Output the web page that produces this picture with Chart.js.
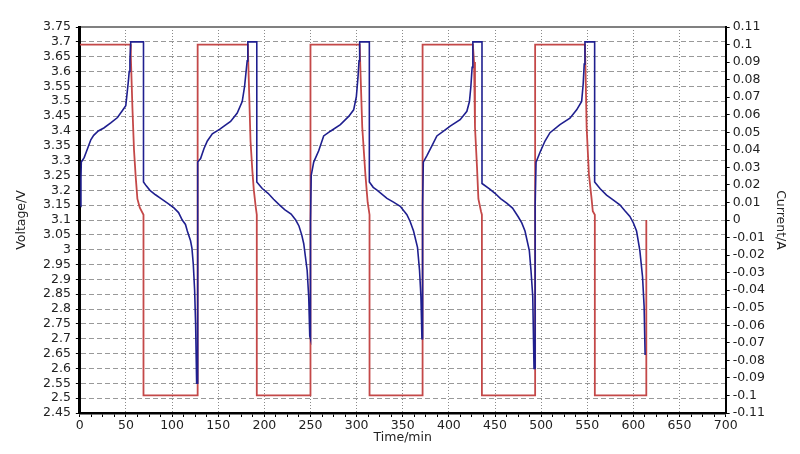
<!DOCTYPE html>
<html lang="en">
<head>
<meta charset="UTF-8">
<title>Voltage / Current vs Time</title>
<script src="https://cdn.jsdelivr.net/npm/chart.js@4/dist/chart.umd.min.js"></script>
<style>
  html, body { margin: 0; padding: 0; background: #fff; }
  #wrap { width: 800px; height: 454px; }
</style>
</head>
<body>
<div id="wrap"><canvas id="chart" width="800" height="454"></canvas></div>
<script>
// Voltage (blue, left axis) - time in minutes
const voltTime = [
  1, 1.2, 1.6, 4.7, 8.3, 11.9, 15, 20, 26, 33.5, 40.8, 46, 49.8, 51, 52.7, 53.5, 54.3, 55.2, 69,
  69, 72, 76, 82, 88, 95, 102, 107, 111, 114.5, 116.5, 120, 121.5, 123, 124.4, 125.5, 126.6, 127.7,
  127.7, 127.8, 130.9, 134.5, 138.2, 143.6, 151.8, 157, 163.4, 170.6, 176, 178.5, 180.3, 181.4, 182.1, 191.8,
  191.8, 197.7, 204, 210, 216, 222, 229, 234, 237.5, 240.5, 242.7, 246.4, 248.1, 249.2, 250,
  250, 250.8, 253.5, 258.9, 264.3, 271.6, 282.4, 291.4, 296.8, 299.7, 301.5, 302.6, 303.3, 313.8,
  313.8, 318, 322.1, 332.9, 340, 347.3, 354.5, 358, 361.7, 366, 368.2, 369.7, 370.8, 371.5,
  371.5, 372.3, 376.2, 381.6, 387, 394.2, 401.4, 412.2, 419.5, 422.3, 423.8, 425.2, 426, 435.9,
  435.9, 444, 450, 456, 462.7, 469, 475.3, 479, 482.5, 487.2, 489, 490.9, 492.3, 493.5,
  493.5, 494.5, 498.8, 504.2, 509.6, 520.4, 531.2, 538.5, 543.9, 545.6, 546.7, 547.5, 558,
  558, 564, 570.9, 578, 585.3, 591, 596.2, 600, 603.4, 607, 609.9, 611.6, 612.7
];
const voltValue = [
  3.146, 3.24, 3.295, 3.31, 3.34, 3.37, 3.385, 3.40, 3.41, 3.427, 3.445, 3.468, 3.485, 3.52, 3.57, 3.60, 3.64, 3.70, 3.70,
  3.228, 3.215, 3.20, 3.185, 3.172, 3.157, 3.141, 3.125, 3.10, 3.085, 3.063, 3.03, 3.005, 2.95, 2.865, 2.75, 2.55, 2.55,
  3.19, 3.295, 3.307, 3.34, 3.366, 3.39, 3.406, 3.418, 3.432, 3.46, 3.499, 3.548, 3.603, 3.636, 3.70, 3.70,
  3.228, 3.206, 3.19, 3.17, 3.152, 3.135, 3.12, 3.10, 3.08, 3.05, 3.02, 2.93, 2.84, 2.71, 2.70,
  3.09, 3.25, 3.295, 3.333, 3.383, 3.399, 3.421, 3.449, 3.471, 3.515, 3.581, 3.636, 3.70, 3.70,
  3.228, 3.21, 3.201, 3.173, 3.16, 3.146, 3.118, 3.095, 3.063, 3.008, 2.93, 2.843, 2.70, 2.70,
  3.15, 3.295, 3.317, 3.35, 3.383, 3.399, 3.416, 3.438, 3.466, 3.499, 3.548, 3.614, 3.70, 3.70,
  3.223, 3.205, 3.19, 3.172, 3.157, 3.14, 3.11, 3.09, 3.063, 2.997, 2.93, 2.843, 2.60, 2.60,
  3.15, 3.295, 3.328, 3.366, 3.394, 3.421, 3.443, 3.471, 3.499, 3.559, 3.625, 3.70, 3.70,
  3.228, 3.205, 3.184, 3.168, 3.151, 3.13, 3.112, 3.09, 3.063, 2.997, 2.909, 2.81, 2.645
];

// Current (red, right axis)
const currTime = [
  0, 55, 55.3, 57, 58.7, 60.5, 62.4, 65, 69, 69, 127.7,
  127.7, 182.1, 183, 185, 187, 188.6, 190.5, 191.8, 191.8, 250,
  250, 303.3, 304.4, 306.1, 309.5, 312, 314, 314, 371.5,
  371.5, 426, 427.3, 428.3, 430.5, 432, 434.8, 435.8, 435.8, 493.5,
  493.5, 547.5, 548.3, 549.3, 551.8, 554.7, 556, 558.2, 558.2, 614, 614
];
const currValue = [
  0.1, 0.1, 0.093, 0.064, 0.04, 0.025, 0.012, 0.007, 0.003, -0.1, -0.1,
  0.1, 0.1, 0.082, 0.045, 0.028, 0.017, 0.008, 0.003, -0.1, -0.1,
  0.1, 0.1, 0.081, 0.053, 0.026, 0.01, 0.003, -0.1, -0.1,
  0.1, 0.1, 0.09, 0.053, 0.03, 0.012, 0.005, 0.003, -0.1, -0.1,
  0.1, 0.1, 0.081, 0.053, 0.026, 0.012, 0.005, 0.003, -0.1, -0.1, 0
];

const xTitle = 'Time/min';
const yTitle = 'Voltage/V';
const y1Title = 'Current/A';

const voltPoints = voltTime.map((t, i) => ({ x: t, y: voltValue[i] }));
const currPoints = currTime.map((t, i) => ({ x: t, y: currValue[i] }));

const tickFont = { family: 'DejaVu Sans', size: 12.5 };
const trim = v => String(+Number(v).toFixed(2));

new Chart(document.getElementById('chart'), {
  type: 'line',
  data: {
    datasets: [
      { label: 'Voltage', data: voltPoints, yAxisID: 'y', borderColor: '#1f1f8f', borderWidth: 1.6, pointRadius: 0, tension: 0 },
      { label: 'Current', data: currPoints, yAxisID: 'y1', borderColor: '#c44848', borderWidth: 1.8, pointRadius: 0, tension: 0 }
    ]
  },
  options: {
    responsive: false,
    animation: false,
    layout: { padding: { left: 8, right: 8, top: 19, bottom: 9 } },
    plugins: { legend: { display: false }, tooltip: { enabled: false } },
    scales: {
      x: {
        type: 'linear', position: 'bottom', min: 0, max: 700,
        ticks: {
          stepSize: 12.5, autoSkip: false, maxRotation: 0, padding: 1,
          color: '#222', font: tickFont,
          callback: v => (v % 50 === 0 ? String(v) : '')
        },
        grid: {
          color: ctx => (ctx.tick && ctx.tick.value % 50 === 0 ? '#8a8a8a' : 'rgba(0,0,0,0)'),
          tickColor: '#000', tickLength: 4, tickBorderDash: []
        },
        border: { color: '#000', width: 2.5, dash: [1, 2] },
        title: { display: true, text: xTitle, color: '#222', font: tickFont, padding: { top: -4, bottom: 0 } }
      },
      xTop: {
        type: 'linear', position: 'top', min: 0, max: 700,
        ticks: { display: false }, grid: { display: false },
        border: { color: '#808080', width: 2 }
      },
      y: {
        position: 'left', min: 2.45, max: 3.75,
        ticks: { stepSize: 0.05, autoSkip: false, padding: 5, color: '#222', font: tickFont, callback: trim },
        grid: { color: '#999', tickColor: '#000', tickLength: 4, tickBorderDash: [] },
        border: { color: '#000', width: 3, dash: [5, 3] },
        title: { display: true, text: yTitle, color: '#222', font: tickFont, padding: { top: 6, bottom: 9 } }
      },
      y1: {
        position: 'right', min: -0.11, max: 0.11,
        ticks: { stepSize: 0.01, autoSkip: false, padding: 3, color: '#222', font: tickFont, callback: trim },
        grid: { drawOnChartArea: false, tickColor: '#000', tickLength: 4 },
        border: { color: '#000', width: 2 },
        title: { display: true, text: y1Title, color: '#222', font: tickFont, padding: { top: 4, bottom: 5 } }
      }
    }
  }
});
</script>
</body>
</html>
